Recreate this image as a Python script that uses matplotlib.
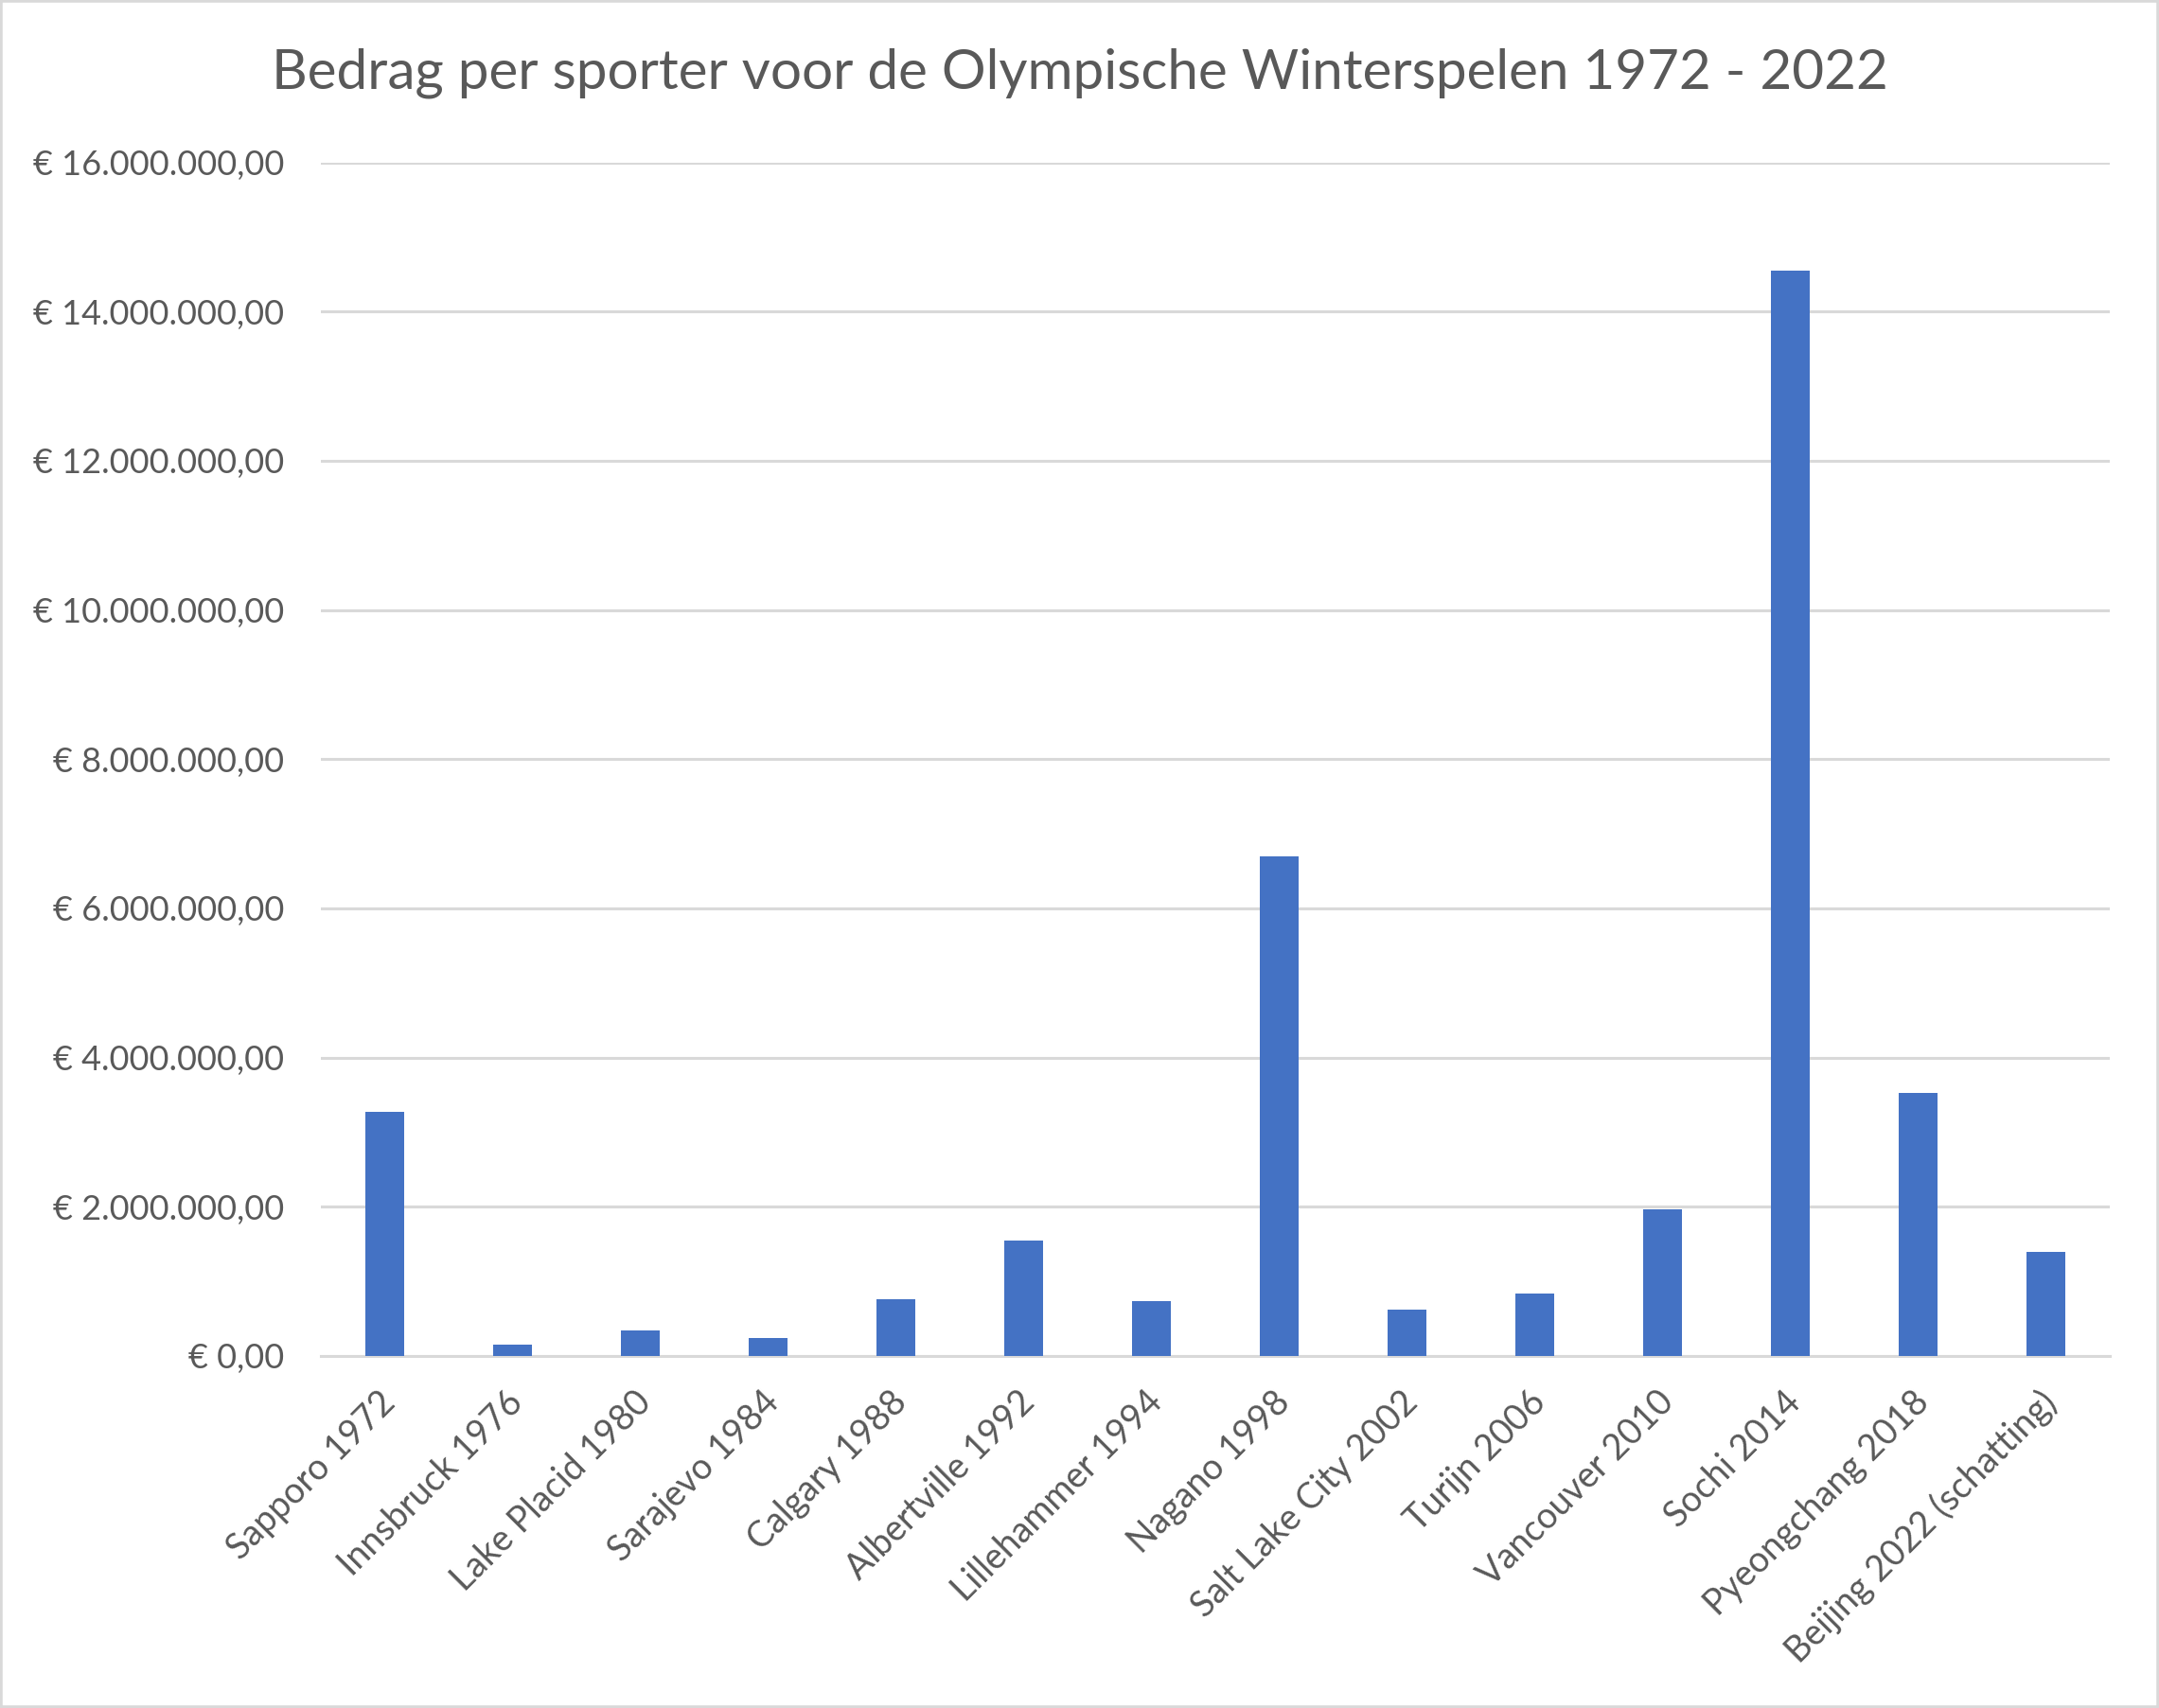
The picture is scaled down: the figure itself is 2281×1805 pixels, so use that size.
import matplotlib
matplotlib.use("Agg")
import matplotlib.pyplot as plt
from matplotlib.ticker import FuncFormatter, MultipleLocator
from matplotlib.patches import Rectangle
from matplotlib.transforms import ScaledTranslation

# Spelen en bedrag per sporter (euro)
spelen = [
    "Sapporo 1972", "Innsbruck 1976", "Lake Placid 1980", "Sarajevo 1984",
    "Calgary 1988", "Albertville 1992", "Lillehammer 1994", "Nagano 1998",
    "Salt Lake City 2002", "Turijn 2006", "Vancouver 2010", "Sochi 2014",
    "Pyeongchang 2018", "Beijing 2022 (schatting)",
]
bedrag = [
    3_277_000, 156_000, 347_000, 245_000,
    765_000, 1_552_000, 740_000, 6_700_000,
    626_000, 841_000, 1_970_000, 14_550_000,
    3_530_000, 1_400_000,
]

titel = "Bedrag per sporter voor de Olympische Winterspelen 1972 - 2022"

plt.rcParams["font.family"] = ["Lato", "DejaVu Sans"]
tekstkleur = "#595959"
rasterkleur = "#D9D9D9"
balkkleur = "#4472C4"


def euro(v, _pos=None):
    geheel = f"{int(round(v)):,}".replace(",", ".")
    return f"€ {geheel},00"


fig = plt.figure(figsize=(22.81, 18.05), dpi=100)
fig.patch.set_facecolor("white")
ax = fig.add_axes([0.1486, 0.2061, 0.9772 - 0.1486, 0.9049 - 0.2061])

x = range(len(spelen))
ax.bar(x, bedrag, width=0.31, color=balkkleur, zorder=3)

ax.set_xlim(-0.5, len(spelen) - 0.5)
ax.set_ylim(0, 16_000_000)
ax.yaxis.set_major_locator(MultipleLocator(2_000_000))
ax.yaxis.set_major_formatter(FuncFormatter(euro))
ax.grid(axis="y", color=rasterkleur, linewidth=2.2, zorder=0)
ax.set_axisbelow(True)

for kant in ["top", "right", "left"]:
    ax.spines[kant].set_visible(False)
ax.spines["bottom"].set_color(rasterkleur)
ax.spines["bottom"].set_linewidth(2.2)

ax.tick_params(axis="y", length=0, pad=28, labelsize=26, labelcolor=tekstkleur)
ax.tick_params(axis="x", length=0, pad=22, labelsize=27, labelcolor=tekstkleur)
ax.set_xticks(list(x))
ax.set_xticklabels(spelen, rotation=45, ha="right", rotation_mode="anchor")

# categorielabels iets naar links schuiven
verschuiving = ScaledTranslation(-0.07, 0, fig.dpi_scale_trans)
for lbl in ax.get_xticklabels():
    lbl.set_transform(lbl.get_transform() + verschuiving)

fig.text(0.5, 0.957, titel, ha="center", va="center", fontsize=42, color=tekstkleur)

# lichtgrijze rand om het diagram
fig.patches.append(Rectangle((0, 0), 1, 1, transform=fig.transFigure,
                             fill=False, edgecolor=rasterkleur, linewidth=4))

fig.savefig("out.png", dpi=100, facecolor="white")
